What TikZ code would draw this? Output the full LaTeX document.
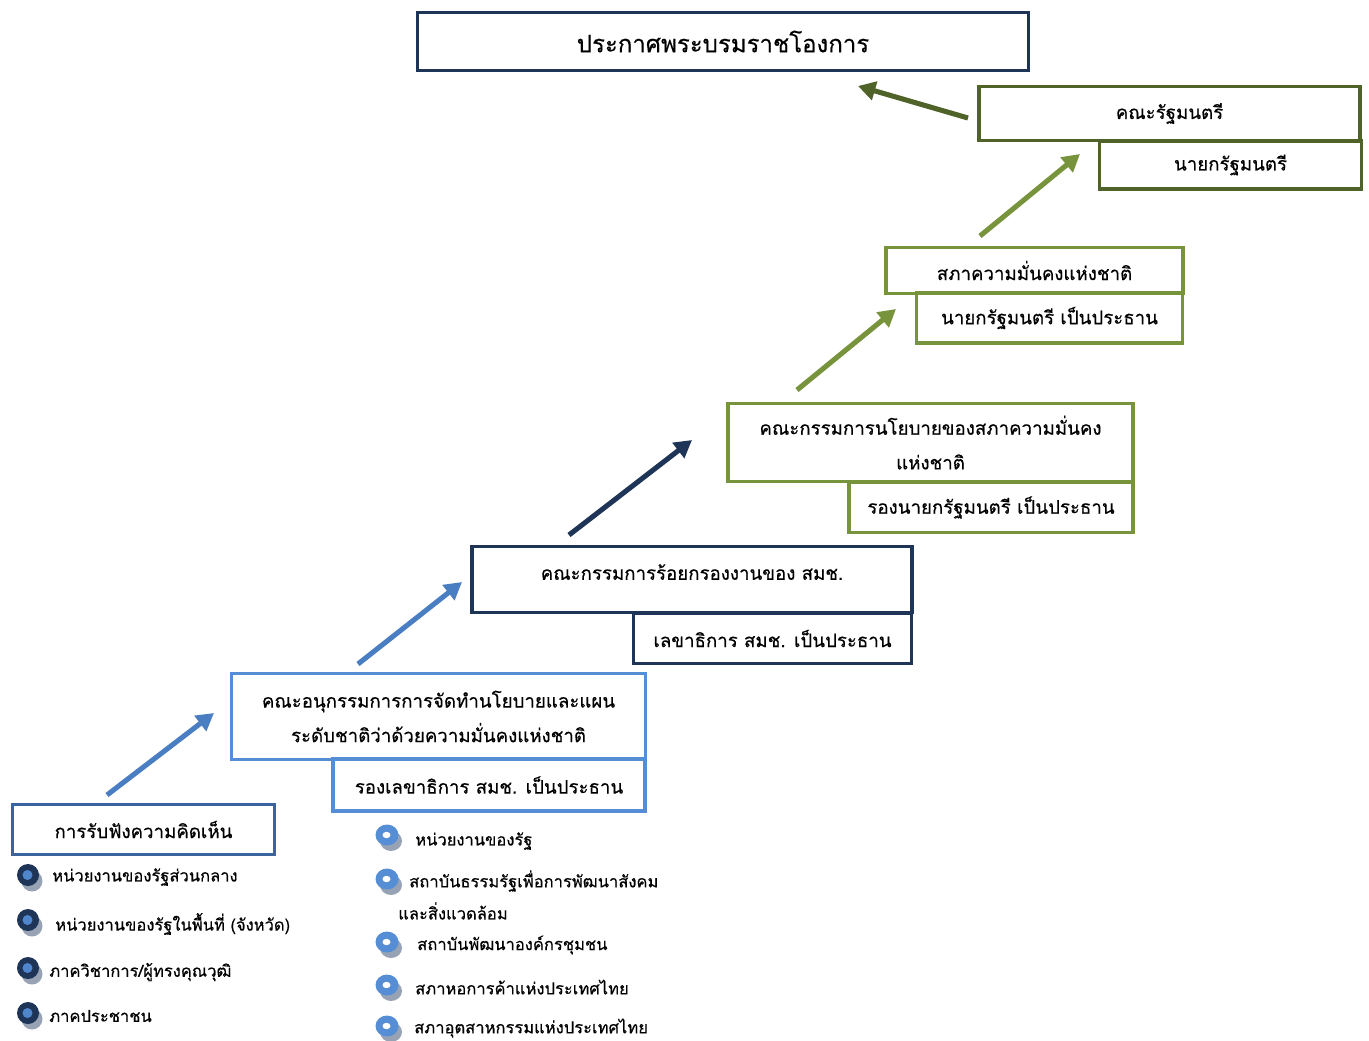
\documentclass[tikz,border=0pt]{standalone}
\usepackage{fontspec}
\newfontfamily\thai[Script=Thai,FakeBold=0.4]{Loma}
\usetikzlibrary{arrows.meta,calc}
\definecolor{navy}{HTML}{1F3557}
\definecolor{olive}{HTML}{4F6228}
\definecolor{grn}{HTML}{77933C}
\definecolor{lblue}{HTML}{558ED5}
\definecolor{mblue}{HTML}{3A64A0}
\definecolor{ablue}{HTML}{4A7EC2}
\definecolor{dotblue}{HTML}{4F86CC}
\definecolor{shadowg}{HTML}{97A3B4}
\tikzset{
  box/.style={draw, line width=2.3pt, fill=white, inner sep=0pt, align=center, font=\thai\fontsize{14}{26}\selectfont},
  uparrow/.style={line width=3.8pt, -{Triangle[length=13pt,width=14pt]}},
  btxt/.style={anchor=west, inner sep=0pt, font=\thai\fontsize{12.4}{22}\selectfont},
}
\newcommand{\darkbullet}[2]{%
  \fill[shadowg] ($(#1)+(4,6)$) circle (10.5);
  \fill[navy] (#1) circle (11);
  \fill[dotblue] ($(#1)+(-0.5,0)$) circle (5);
  \coordinate (#2) at (#1);
}
\newcommand{\lightbullet}[2]{%
  \fill[shadowg] ($(#1)+(4,6)$) ellipse (11 and 10);
  \fill[lblue] (#1) ellipse (11.5 and 10.5);
  \fill[white] ($(#1)+(-0.5,0)$) ellipse (4 and 3.2);
  \coordinate (#2) at (#1);
}
\begin{document}
\begin{tikzpicture}[x=0.75pt,y=-0.75pt]
\useasboundingbox[fill=white] (0,0) rectangle (1369,1040);

% title
\node[box, draw=navy, minimum width=458pt, minimum height=43pt, font=\thai\fontsize{18}{20}\selectfont] (title) at (723,41.5) {ประกาศพระบรมราชโองการ};

% cabinet
\node[box, draw=olive, minimum width=285.75pt, minimum height=40pt] (cab) at (1169.5,113.5) {คณะรัฐมนตรี};
\node[box, draw=olive, minimum width=197pt, minimum height=36pt] (pm) at (1230.5,165) {นายกรัฐมนตรี};

% NSC
\node[box, draw=grn, minimum width=222.75pt, minimum height=34pt] (nsc) at (1034.5,270.5) {สภาความมั่นคงแห่งชาติ};
\node[box, draw=grn, minimum width=200pt, minimum height=37.5pt] (nscc) at (1049.5,318) {นายกรัฐมนตรี เป็นประธาน};

% policy committee
\node[box, draw=grn, minimum width=303.75pt, minimum height=59pt] (pol) at (930.5,442.5) {คณะกรรมการนโยบายของสภาความมั่นคง\\แห่งชาติ};
\node[box, draw=grn, minimum width=213pt, minimum height=38pt] (polc) at (991,507.5) {รองนายกรัฐมนตรี เป็นประธาน};

% screening committee
\node[box, draw=navy, minimum width=330pt, minimum height=50pt] (scr) at (692,579.5) {};
\node[inner sep=0pt, font=\thai\fontsize{14}{26}\selectfont] (scrt) at (692,572) {คณะกรรมการร้อยกรองงานของ สมช.};
\node[box, draw=navy, minimum width=209pt, minimum height=38pt] (scrc) at (772.5,638.5) {เลขาธิการ สมช. เป็นประธาน};

% subcommittee
\node[box, draw=lblue, minimum width=310pt, minimum height=64pt] (sub) at (438.5,716.5) {คณะอนุกรรมการการจัดทำนโยบายและแผน\\ระดับชาติว่าด้วยความมั่นคงแห่งชาติ};
\node[box, draw=lblue, minimum width=234pt, minimum height=39pt] (subc) at (489,785) {รองเลขาธิการ สมช. เป็นประธาน};

% hearing
\node[box, draw=mblue, minimum width=197pt, minimum height=38pt] (hear) at (143.5,829.5) {การรับฟังความคิดเห็น};

% arrows
\coordinate (a1s) at (107,795); \coordinate (a1e) at (214,713);
\coordinate (a2s) at (358,664); \coordinate (a2e) at (462,582);
\coordinate (a3s) at (569,535); \coordinate (a3e) at (692,440);
\coordinate (a4s) at (797,390); \coordinate (a4e) at (896,309);
\coordinate (a5s) at (980,236); \coordinate (a5e) at (1080,154);
\coordinate (a6s) at (968,118); \coordinate (a6e) at (858,86);
\draw[uparrow, ablue] (a1s) -- (a1e);
\draw[uparrow, ablue] (a2s) -- (a2e);
\draw[uparrow, navy] (a3s) -- (a3e);
\draw[uparrow, grn] (a4s) -- (a4e);
\draw[uparrow, grn] (a5s) -- (a5e);
\draw[uparrow, olive] (a6s) -- (a6e);

% left bullets
\coordinate (lb1) at (28,875); \darkbullet{lb1}{l1}
\coordinate (lb2) at (28,920); \darkbullet{lb2}{l2}
\coordinate (lb3) at (28,968); \darkbullet{lb3}{l3}
\coordinate (lb4) at (28,1013); \darkbullet{lb4}{l4}
\node[btxt] (lt1) at (52,877) {หน่วยงานของรัฐส่วนกลาง};
\node[btxt] (lt2) at (55,924) {หน่วยงานของรัฐในพื้นที่ (จังหวัด)};
\node[btxt] (lt3) at (49,972) {ภาควิชาการ/ผู้ทรงคุณวุฒิ};
\node[btxt] (lt4) at (49,1016) {ภาคประชาชน};

% right bullets
\coordinate (rb1) at (387,835); \lightbullet{rb1}{r1}
\coordinate (rb2) at (387,879); \lightbullet{rb2}{r2}
\coordinate (rb3) at (387,942); \lightbullet{rb3}{r3}
\coordinate (rb4) at (387,985); \lightbullet{rb4}{r4}
\coordinate (rb5) at (387,1026); \lightbullet{rb5}{r5}
\node[btxt] (rt1) at (415,841) {หน่วยงานของรัฐ};
\node[btxt] (rt2) at (409,881) {สถาบันธรรมรัฐเพื่อการพัฒนาสังคม};
\node[btxt] (rt2b) at (398,911) {และสิ่งแวดล้อม};
\node[btxt] (rt3) at (417,945) {สถาบันพัฒนาองค์กรชุมชน};
\node[btxt] (rt4) at (415,987) {สภาหอการค้าแห่งประเทศไทย};
\node[btxt] (rt5) at (414,1028) {สภาอุตสาหกรรมแห่งประเทศไทย};
\end{tikzpicture}
\end{document}
